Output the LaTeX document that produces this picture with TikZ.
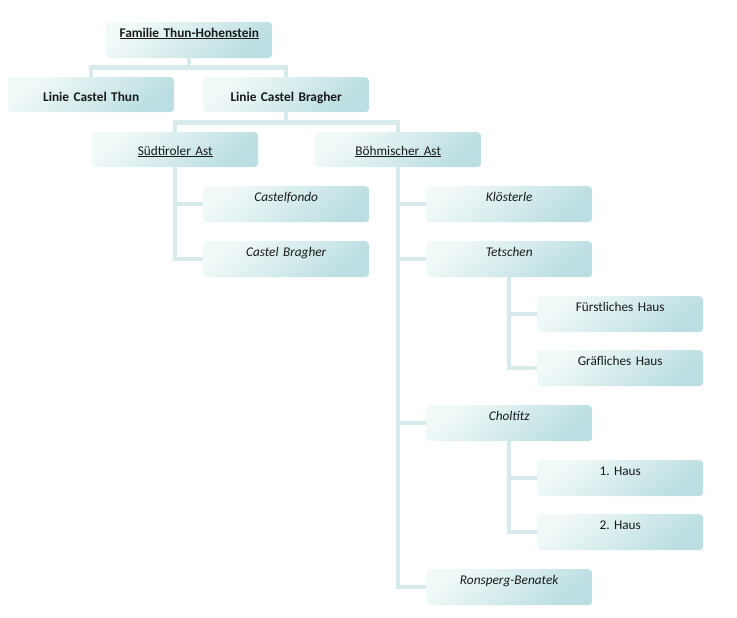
\documentclass[tikz,border=0pt]{standalone}
\usepackage{fontspec}
\setmainfont{Carlito}
\frenchspacing
\usetikzlibrary{backgrounds}
\definecolor{boxlight}{HTML}{F2F9F9}
\definecolor{boxmid}{HTML}{E2F1F2}
\definecolor{boxdark}{HTML}{BADEE1}
\definecolor{conn}{HTML}{D8EBEC}
\definecolor{txt}{HTML}{1A1A1A}
\tikzset{
  box/.style={anchor=north west, rounded corners=4pt, inner xsep=0pt, inner ysep=0pt,
    minimum width=166pt, text width=166pt, align=center,
    left color=boxlight, middle color=boxmid, right color=boxdark, shading angle=40,
    text=txt, font=\fontsize{13.3}{15}\selectfont},
  toplvl/.style={box, text height=15pt, text depth=21pt},
  lvlone/.style={box, text height=24pt, text depth=11pt, font=\fontsize{13.3}{15}\selectfont\bfseries},
  lvltwo/.style={box, text height=23pt, text depth=12pt},
  lvlthree/.style={box, text height=15pt, text depth=21pt},
  conline/.style={draw=conn, line width=4.5pt}
}
\begin{document}
\begin{tikzpicture}[x=1pt,y=-1pt]
\useasboundingbox (0,0) rectangle (737,618);
\node[toplvl, font=\fontsize{13.3}{15}\selectfont\bfseries] (fam) at (106,22) {\underline{Familie Thun-Hohenstein}};
\node[lvlone] (thun) at (8,77) {Linie Castel Thun};
\node[lvlone] (brag) at (203,77) {Linie Castel Bragher};
\node[lvltwo] (sud) at (92,132) {\underline{Südtiroler Ast}};
\node[lvltwo] (boh) at (315,132) {\underline{Böhmischer Ast}};
\node[lvlthree] (cfo) at (203,186) {\itshape Castelfondo};
\node[lvlthree] (cbr) at (203,241) {\itshape Castel Bragher};
\node[lvlthree] (klo) at (426,186) {\itshape Klösterle};
\node[lvlthree] (tet) at (426,241) {\itshape Tetschen};
\node[lvlthree] (fur) at (537,296) {Fürstliches Haus};
\node[lvlthree] (gra) at (537,350) {Gräfliches Haus};
\node[lvlthree] (cho) at (426,405) {\itshape Choltitz};
\node[lvlthree] (eins) at (537,460) {1. Haus};
\node[lvlthree] (zwei) at (537,514) {2. Haus};
\node[lvlthree] (ron) at (426,569) {\itshape Ronsperg-Benatek};
\begin{scope}[on background layer]
\draw[conline] (fam.south) -- ++(0,9) -| (thun.north);
\draw[conline] (fam.south) -- ++(0,9) -| (brag.north);
\draw[conline] (brag.south) -- ++(0,10) -| (sud.north);
\draw[conline] (brag.south) -- ++(0,10) -| (boh.north);
\draw[conline] (sud.south) |- (cfo.west);
\draw[conline] (sud.south) |- (cbr.west);
\draw[conline] (boh.south) |- (klo.west);
\draw[conline] (boh.south) |- (tet.west);
\draw[conline] (boh.south) |- (cho.west);
\draw[conline] (boh.south) |- (ron.west);
\draw[conline] (tet.south) |- (fur.west);
\draw[conline] (tet.south) |- (gra.west);
\draw[conline] (cho.south) |- (eins.west);
\draw[conline] (cho.south) |- (zwei.west);
\end{scope}
\end{tikzpicture}
\end{document}
